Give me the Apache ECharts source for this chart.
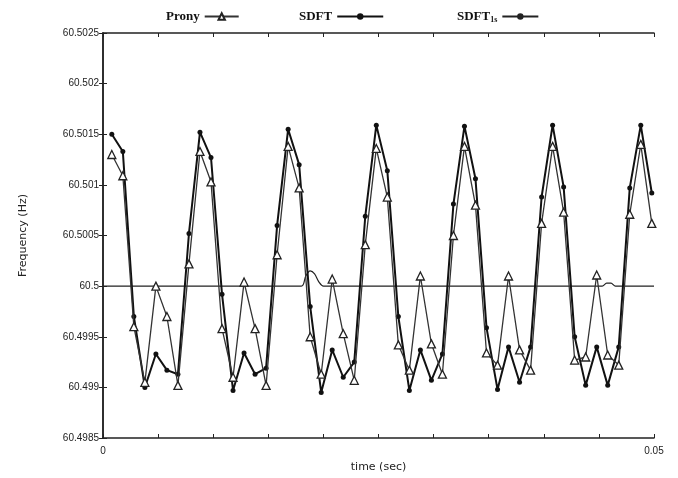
<!DOCTYPE html>
<html>
<head>
<meta charset="utf-8">
<script src="https://cdn.jsdelivr.net/npm/echarts@6/dist/echarts.min.js"></script>
<style>
  html, body { margin: 0; padding: 0; background: #fff; }
  #chart { width: 678px; height: 478px; }
</style>
</head>
<body>
<div id="chart"></div>
<script>
// sample times (s)
const timeSec = [
  0.0008, 0.0018, 0.0028, 0.0038, 0.0048, 0.0058, 0.0068, 0.0078,
  0.0088, 0.0098, 0.0108, 0.0118, 0.0128, 0.0138, 0.0148, 0.0158,
  0.0168, 0.0178, 0.0188, 0.0198, 0.0208, 0.0218, 0.0228, 0.0238,
  0.0248, 0.0258, 0.0268, 0.0278, 0.0288, 0.0298, 0.0308, 0.0318,
  0.0328, 0.0338, 0.0348, 0.0358, 0.0368, 0.0378, 0.0388, 0.0398,
  0.0408, 0.0418, 0.0428, 0.0438, 0.0448, 0.0458, 0.0468, 0.0478,
  0.0488, 0.0498
]
const pronyFreq = [
  60.5013, 60.50109, 60.4996, 60.49905, 60.5000, 60.4997, 60.49902, 60.50022,
  60.50133, 60.50103, 60.49958, 60.4991, 60.50004, 60.49958, 60.49902, 60.50031,
  60.50138, 60.50097, 60.4995, 60.49913, 60.50007, 60.49953, 60.49907, 60.50041,
  60.50136, 60.50088, 60.49942, 60.49917, 60.5001, 60.49943, 60.49913, 60.5005,
  60.50138, 60.5008, 60.49934, 60.49922, 60.5001, 60.49937, 60.49917, 60.50062,
  60.50138, 60.50073, 60.49927, 60.4993, 60.50011, 60.49932, 60.49922, 60.50071,
  60.5014, 60.50062
]
const sdftFreq = [
  60.5015, 60.50133, 60.4997, 60.4990, 60.49933, 60.49917, 60.49913, 60.50052,
  60.50152, 60.50127, 60.49992, 60.49897, 60.49934, 60.49913, 60.49919, 60.5006,
  60.50155, 60.5012, 60.4998, 60.49895, 60.49937, 60.4991, 60.49925, 60.50069,
  60.50159, 60.50114, 60.4997, 60.49897, 60.49937, 60.49907, 60.49933, 60.50081,
  60.50158, 60.50106, 60.49959, 60.49898, 60.4994, 60.49905, 60.4994, 60.50088,
  60.50159, 60.50098, 60.4995, 60.49902, 60.4994, 60.49902, 60.4994, 60.50097,
  60.50159, 60.50092
]
const sdft1sTime = [0, 0.0180, 0.0184, 0.0188, 0.0192, 0.0196, 0.0200, 0.0453, 0.0457, 0.0461, 0.0465, 0.05]
const sdft1sFreq = [60.5, 60.5, 60.5001, 60.50015, 60.50012, 60.50004, 60.5, 60.5, 60.50003, 60.50003, 60.5, 60.5]

const yTicks = { min: 60.4985, max: 60.5025, step: 0.0005 }
const xTicks = { min: 0, max: 0.05, step: 0.005 }

const pair = (xs, ys) => xs.map((x, i) => [x, ys[i]])

const chart = echarts.init(document.getElementById('chart'))

const legendText = {
  fontFamily: 'Liberation Serif',
  fontWeight: 'bold',
  fontSize: 13,
  color: '#111',
  rich: { sub: { fontSize: 8, fontWeight: 'bold', fontFamily: 'Liberation Serif', verticalAlign: 'bottom', padding: [6, 0, 0, 0] } }
}
const mkLegend = (name, left, w) => ({
  data: [name],
  left: left,
  top: 5,
  align: 'right',
  itemWidth: w,
  itemHeight: 8,
  itemGap: 6,
  selectedMode: false,
  textStyle: legendText,
  formatter: n => n === 'SDFT1s' ? 'SDFT{sub|1s}' : n
})

chart.setOption({
  animation: false,
  backgroundColor: '#fff',
  grid: { left: 103, right: 24, top: 33, bottom: 38 },
  legend: [
    mkLegend('Prony', 161, 34),
    mkLegend('SDFT', 294, 46),
    mkLegend('SDFT1s', 452, 36)
  ],
  xAxis: [{
    type: 'value',
    min: xTicks.min, max: xTicks.max, interval: xTicks.step,
    name: 'time (sec)',
    nameLocation: 'middle',
    nameGap: 24,
    nameTextStyle: { fontSize: 11, color: '#222', fontFamily: 'DejaVu Sans' },
    axisLine: { lineStyle: { color: '#222', width: 1.5 } },
    axisTick: { inside: true, length: 4, lineStyle: { color: '#222' } },
    splitLine: { show: false },
    axisLabel: {
      fontSize: 10, color: '#222', margin: 8,
      formatter: v => v === 0 ? '0' : (Math.abs(v - 0.05) < 1e-9 ? '0.05' : '')
    }
  }, {
    type: 'value', position: 'top',
    min: xTicks.min, max: xTicks.max, interval: xTicks.step,
    axisLine: { lineStyle: { color: '#222', width: 1.5 } },
    axisTick: { inside: true, length: 4, lineStyle: { color: '#222' } },
    axisLabel: { show: false },
    splitLine: { show: false }
  }],
  yAxis: [{
    type: 'value',
    min: yTicks.min, max: yTicks.max, interval: yTicks.step,
    name: 'Frequency (Hz)',
    nameLocation: 'middle',
    nameGap: 74,
    nameTextStyle: { fontSize: 11, color: '#222', fontFamily: 'DejaVu Sans' },
    axisLine: { show: true, lineStyle: { color: '#222', width: 1.5 } },
    axisTick: { show: true, inside: true, length: 4, lineStyle: { color: '#222' } },
    splitLine: { show: false },
    axisLabel: {
      fontSize: 10, color: '#222', margin: 4,
      formatter: v => String(parseFloat(v.toFixed(4)))
    }
  }, {
    type: 'value', position: 'right',
    min: yTicks.min, max: yTicks.max, interval: yTicks.step,
    axisLine: { show: true, lineStyle: { color: '#222', width: 1.5 } },
    axisTick: { show: true, inside: true, length: 4, lineStyle: { color: '#222' } },
    axisLabel: { show: false },
    splitLine: { show: false }
  }],
  series: [
    {
      name: 'SDFT1s',
      type: 'line',
      data: pair(sdft1sTime, sdft1sFreq),
      smooth: 0.3,
      symbol: 'none',
      itemStyle: { color: '#222' },
      lineStyle: { color: '#222', width: 1.2 },
      z: 1
    },
    {
      name: 'SDFT',
      type: 'line',
      data: pair(timeSec, sdftFreq),
      symbol: 'circle',
      symbolSize: 5,
      itemStyle: { color: '#111' },
      lineStyle: { color: '#111', width: 2 },
      z: 2
    },
    {
      name: 'Prony',
      type: 'line',
      data: pair(timeSec, pronyFreq),
      symbol: 'triangle',
      symbolSize: 8,
      itemStyle: { color: '#fff', borderColor: '#222', borderWidth: 1.3 },
      lineStyle: { color: '#333', width: 1.3 },
      z: 3
    }
  ]
})
</script>
</body>
</html>
